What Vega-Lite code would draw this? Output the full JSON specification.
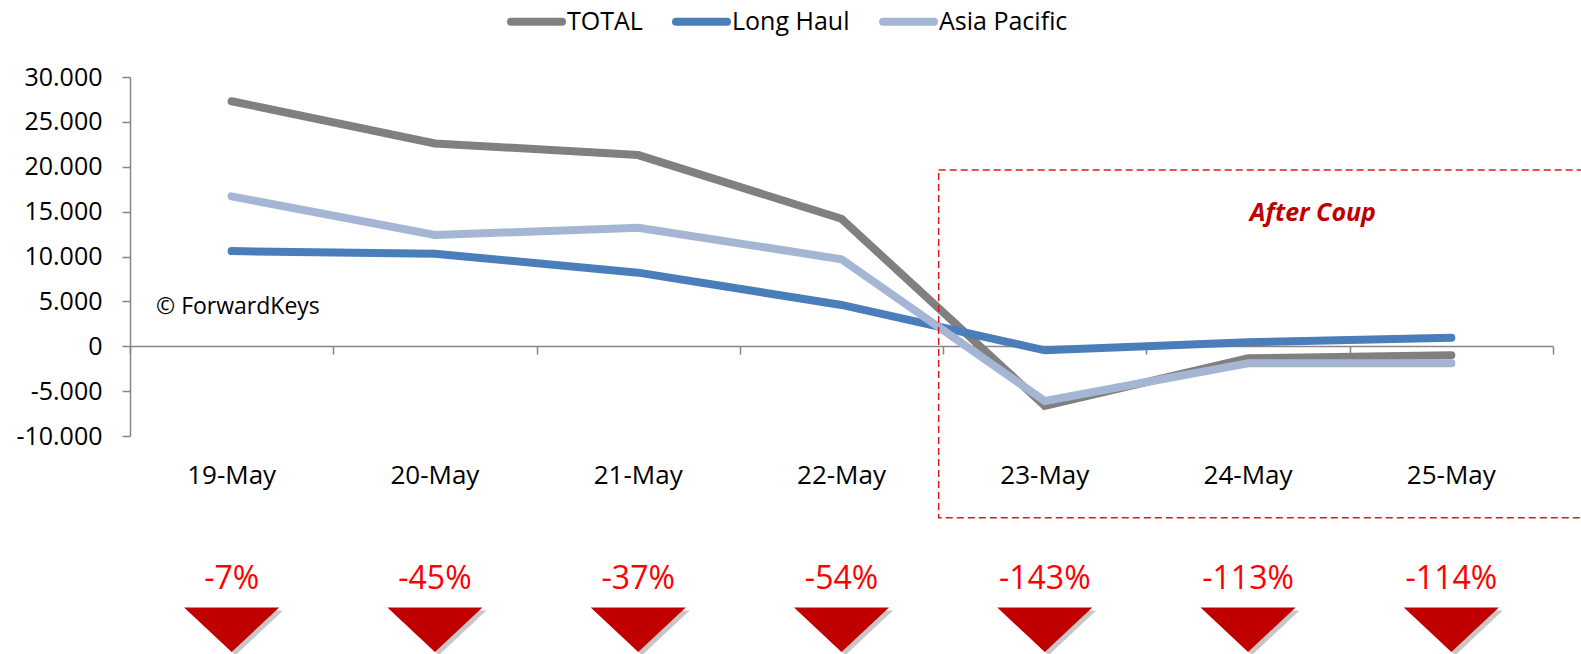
{
  "$schema": "https://vega.github.io/schema/vega-lite/v6.json",
  "width": 1423,
  "height": 359,
  "autosize": {"type": "none"},
  "padding": {"left": 130, "top": 77, "right": 28, "bottom": 218},
  "background": "white",
  "config": {"view": {"stroke": null}, "font": "Open Sans"},
  "datasets": {
    "days": [
      {"day": 19, "date": "19-May", "pct": "-7%"},
      {"day": 20, "date": "20-May", "pct": "-45%"},
      {"day": 21, "date": "21-May", "pct": "-37%"},
      {"day": 22, "date": "22-May", "pct": "-54%"},
      {"day": 23, "date": "23-May", "pct": "-143%"},
      {"day": 24, "date": "24-May", "pct": "-113%"},
      {"day": 25, "date": "25-May", "pct": "-114%"}
    ],
    "series": [
      {"series": "TOTAL", "day": 19, "value": 27300},
      {"series": "TOTAL", "day": 20, "value": 22600},
      {"series": "TOTAL", "day": 21, "value": 21300},
      {"series": "TOTAL", "day": 22, "value": 14200},
      {"series": "TOTAL", "day": 23, "value": -6650},
      {"series": "TOTAL", "day": 24, "value": -1350},
      {"series": "TOTAL", "day": 25, "value": -1000},
      {"series": "Long Haul", "day": 19, "value": 10600},
      {"series": "Long Haul", "day": 20, "value": 10300},
      {"series": "Long Haul", "day": 21, "value": 8200},
      {"series": "Long Haul", "day": 22, "value": 4600},
      {"series": "Long Haul", "day": 23, "value": -450},
      {"series": "Long Haul", "day": 24, "value": 450},
      {"series": "Long Haul", "day": 25, "value": 950},
      {"series": "Asia Pacific", "day": 19, "value": 16700},
      {"series": "Asia Pacific", "day": 20, "value": 12400},
      {"series": "Asia Pacific", "day": 21, "value": 13200},
      {"series": "Asia Pacific", "day": 22, "value": 9700},
      {"series": "Asia Pacific", "day": 23, "value": -6100},
      {"series": "Asia Pacific", "day": 24, "value": -1900},
      {"series": "Asia Pacific", "day": 25, "value": -1900}
    ]
  },
  "layer": [
    {
      "data": {"name": "series"},
      "mark": {"type": "line", "strokeWidth": 8, "strokeCap": "round", "strokeJoin": "miter", "clip": false},
      "encoding": {
        "x": {
          "field": "day", "type": "quantitative", "title": null,
          "scale": {"domain": [18.5, 25.5], "nice": false, "zero": false},
          "axis": {
            "title": null, "values": [18.5, 19.5, 20.5, 21.5, 22.5, 23.5, 24.5, 25.5],
            "labels": false, "grid": false, "offset": -90,
            "domainColor": "#868686", "domainWidth": 1.5,
            "tickColor": "#868686", "tickWidth": 1.5, "tickSize": 8
          }
        },
        "y": {
          "field": "value", "type": "quantitative", "title": null,
          "scale": {"domain": [-10000, 30000], "nice": false, "zero": false},
          "axis": {
            "title": null, "grid": false,
            "values": [-10000, -5000, 0, 5000, 10000, 15000, 20000, 25000, 30000],
            "labelExpr": "datum.value < 0 ? '-' + replace(format(-datum.value, ','), ',', '.') : replace(format(datum.value, ','), ',', '.')",
            "labelFont": "Open Sans", "labelFontSize": 25, "labelColor": "#000000",
            "labelPadding": 20,
            "domainColor": "#868686", "domainWidth": 1.5,
            "tickColor": "#868686", "tickWidth": 1.5, "tickSize": 8
          }
        },
        "color": {
          "field": "series", "type": "nominal",
          "scale": {"domain": ["TOTAL", "Long Haul", "Asia Pacific"], "range": ["#808080", "#4a7ebb", "#a5b6d4"]},
          "legend": {
            "title": null, "orient": "none", "direction": "horizontal",
            "legendX": 377, "legendY": -85,
            "symbolType": "stroke", "symbolSize": 2600, "symbolStrokeWidth": 8,
            "labelFont": "Open Sans", "labelFontSize": 25, "labelColor": "#000000",
            "labelOffset": 1, "columnPadding": 17,
            "encode": {"symbols": {"update": {"strokeCap": {"value": "round"}}}}
          }
        }
      }
    },
    {
      "data": {"values": [{"box": "after"}]},
      "mark": {"type": "rect", "filled": false, "stroke": "#e0181b", "strokeWidth": 1.5, "strokeDash": [7, 4], "clip": false},
      "encoding": {
        "x": {"datum": 22.478, "type": "quantitative"},
        "x2": {"datum": 26.5},
        "y": {"datum": 19640, "type": "quantitative"},
        "y2": {"datum": -19120}
      }
    },
    {
      "data": {"values": [{"t": "After Coup"}]},
      "mark": {"type": "text", "fontSize": 25, "fontWeight": "bold", "fontStyle": "italic", "color": "#c00000", "align": "center", "baseline": "middle"},
      "encoding": {
        "x": {"datum": 24.319, "type": "quantitative"},
        "y": {"datum": 14900, "type": "quantitative"},
        "text": {"field": "t"}
      }
    },
    {
      "data": {"values": [{"t": "© ForwardKeys"}]},
      "mark": {"type": "text", "fontSize": 23, "color": "#000000", "align": "left", "baseline": "middle"},
      "encoding": {
        "x": {"datum": 18.628, "type": "quantitative"},
        "y": {"datum": 4420, "type": "quantitative"},
        "text": {"field": "t"}
      }
    },
    {
      "data": {"name": "days"},
      "mark": {"type": "text", "fontSize": 26, "color": "#000000", "align": "center", "baseline": "middle", "clip": false},
      "encoding": {
        "x": {"field": "day", "type": "quantitative", "title": null},
        "y": {"datum": -14450, "type": "quantitative"},
        "text": {"field": "date"}
      }
    },
    {
      "data": {"name": "days"},
      "mark": {"type": "text", "fontSize": 32, "color": "#ff0000", "align": "center", "baseline": "middle", "clip": false},
      "encoding": {
        "x": {"field": "day", "type": "quantitative", "title": null},
        "y": {"datum": -25960, "type": "quantitative"},
        "text": {"field": "pct"}
      }
    },
    {
      "data": {"name": "days"},
      "mark": {"type": "point", "shape": "M-1,-0.47L1,-0.47L0,0.47Z", "size": 9025, "filled": true, "color": "#000000", "opacity": 0.22, "xOffset": 4, "yOffset": 3, "clip": false},
      "encoding": {
        "x": {"field": "day", "type": "quantitative", "title": null},
        "y": {"datum": -31590, "type": "quantitative"}
      }
    },
    {
      "data": {"name": "days"},
      "mark": {"type": "point", "shape": "M-1,-0.47L1,-0.47L0,0.47Z", "size": 9025, "filled": true, "color": "#c00000", "opacity": 1, "clip": false},
      "encoding": {
        "x": {"field": "day", "type": "quantitative", "title": null},
        "y": {"datum": -31590, "type": "quantitative"}
      }
    }
  ]
}
